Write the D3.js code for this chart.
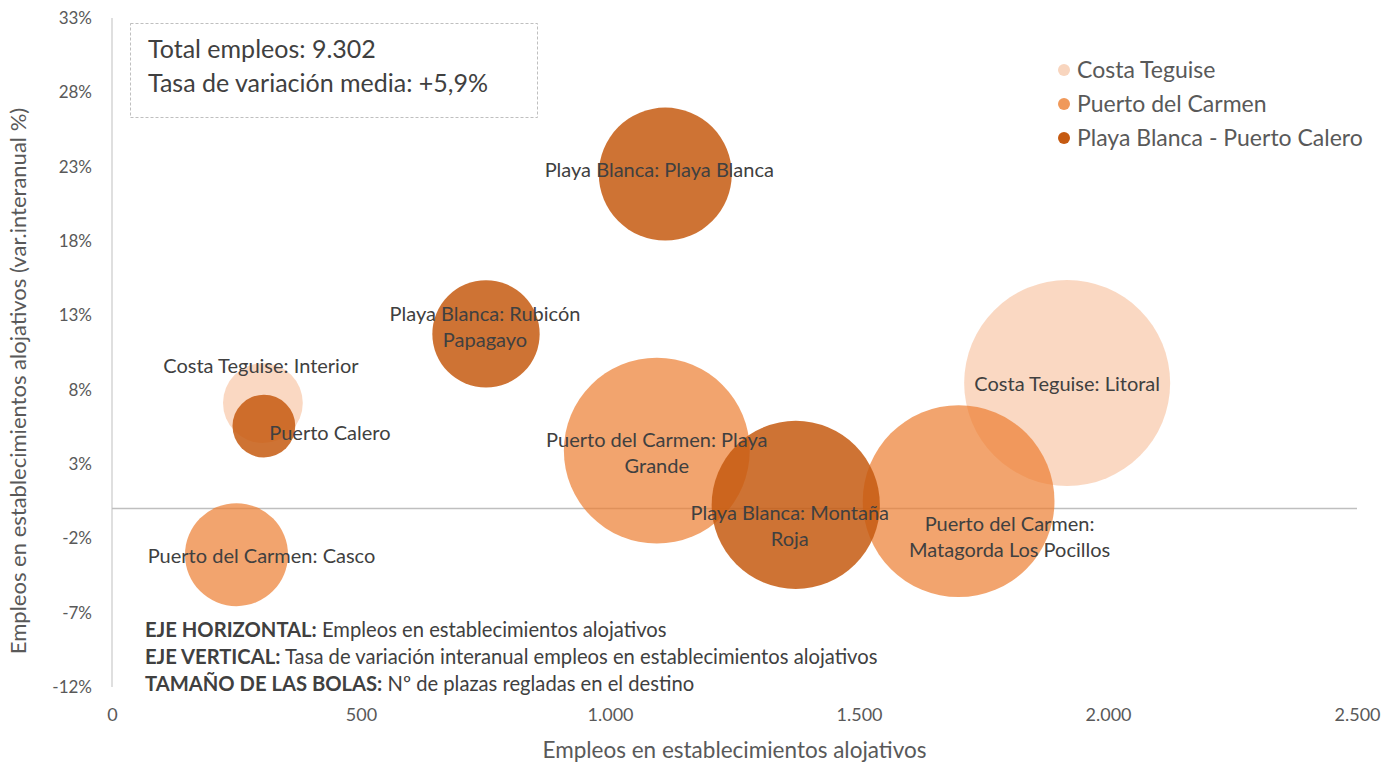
<!DOCTYPE html>
<html>
<head>
  <meta charset="utf-8">
  <script src="https://d3js.org/d3.v7.min.js"></script>
  <style>
    body { margin: 0; background: #fff; }
    text { font-family: Lato, "Open Sans", sans-serif; }
  </style>
</head>
<body>
<script>
  "use strict";

  // Zonas turisticas (orden de dibujo = orden de las series)
  var zonas = ["Costa Teguise: Interior", "Costa Teguise: Litoral",
               "Puerto del Carmen: Casco", "Puerto del Carmen: Playa Grande",
               "Puerto del Carmen: Matagorda Los Pocillos",
               "Puerto Calero", "Playa Blanca: Rubicón Papagayo",
               "Playa Blanca: Playa Blanca", "Playa Blanca: Montaña Roja"];
  var grupos = ["Costa Teguise", "Costa Teguise",
                "Puerto del Carmen", "Puerto del Carmen", "Puerto del Carmen",
                "Playa Blanca - Puerto Calero", "Playa Blanca - Puerto Calero",
                "Playa Blanca - Puerto Calero", "Playa Blanca - Puerto Calero"];
  // empleos en establecimientos alojativos
  var empleos = [303, 1918, 250, 1094, 1700, 305, 751, 1111, 1373];
  // tasa de variacion interanual (%)
  var variacion = [7.1, 8.45, -3.1, 3.9, 0.5, 5.55, 11.75, 22.5, 0.25];
  // plazas regladas (tamano de la bola)
  var plazas = [3150, 21000, 5250, 17100, 18200, 1950, 5700, 8750, 14000];

  var series = ["Costa Teguise", "Puerto del Carmen", "Playa Blanca - Puerto Calero"];
  var xTicks = [0, 500, 1000, 1500, 2000, 2500];
  var yTicks = [-12, -7, -2, 3, 8, 13, 18, 23, 28, 33];

  // label lines and nudges (px) as Excel placed them
  var etiquetas = [
    { lines: ["Costa Teguise: Interior"], dx: -2, dy: -37 },
    { lines: ["Costa Teguise: Litoral"], dx: 0, dy: 1 },
    { lines: ["Puerto del Carmen: Casco"], dx: 25, dy: 1 },
    { lines: ["Puerto del Carmen: Playa", "Grande"], dx: 0, dy: 2 },
    { lines: ["Puerto del Carmen:", "Matagorda Los Pocillos"], dx: 51, dy: 36 },
    { lines: ["Puerto Calero"], dx: 66, dy: 7 },
    { lines: ["Playa Blanca: Rubicón", "Papagayo"], dx: -1, dy: -7 },
    { lines: ["Playa Blanca: Playa Blanca"], dx: -6, dy: -4 },
    { lines: ["Playa Blanca: Montaña", "Roja"], dx: -6, dy: 21 }
  ];

  var data = zonas.map(function (z, i) {
    return { zona: z, grupo: grupos[i], x: empleos[i], y: variacion[i], s: plazas[i], label: etiquetas[i] };
  });

  var width = 1400, height = 767;
  var mLeft = 112, mRight = 1357, mTop = 18, mBottom = 687;

  var svg = d3.select("body").append("svg")
      .attr("width", width)
      .attr("height", height);

  var x = d3.scaleLinear().domain([0, 2500]).range([mLeft, mRight]);
  var y = d3.scaleLinear().domain([-12, 33]).range([mBottom, mTop]);
  var r = d3.scaleSqrt().domain([0, 21000]).range([0, 103]);

  var fill = d3.scaleOrdinal().domain(series).range(["#F8CBAD", "#ED7D31", "#C55A11"]);
  var opac = d3.scaleOrdinal().domain(series).range([0.75, 0.7, 0.85]);
  var legendFill = d3.scaleOrdinal().domain(series).range(["#F8D5BE", "#F0995A", "#C55A11"]);

  var es = d3.formatLocale({ decimal: ",", thousands: ".", grouping: [3], currency: ["", " €"] });

  // axes lines: vertical at x=0, horizontal at y=0
  svg.append("line")
      .attr("x1", x(0)).attr("x2", x(0))
      .attr("y1", mTop).attr("y2", mBottom)
      .style("stroke", "#BFBFBF").style("stroke-width", 1);
  svg.append("line")
      .attr("x1", x(0)).attr("x2", mRight)
      .attr("y1", y(0)).attr("y2", y(0))
      .style("stroke", "#BFBFBF").style("stroke-width", 1.5);

  var yAxis = svg.append("g")
      .attr("transform", "translate(" + (mLeft - 20) + ",0)")
      .call(d3.axisLeft(y).tickValues(yTicks).tickSize(0)
        .tickFormat(function (d) { return d + "%"; }));
  yAxis.select(".domain").remove();
  yAxis.selectAll("text")
      .attr("x", 0)
      .style("font-size", "17px").style("fill", "#595959")
      .style("font-family", "Lato, sans-serif");

  var xAxis = svg.append("g")
      .attr("transform", "translate(0," + (mBottom + 18) + ")")
      .call(d3.axisBottom(x).tickValues(xTicks).tickSize(0).tickFormat(es.format(",.0f")));
  xAxis.select(".domain").remove();
  xAxis.selectAll("text")
      .style("font-size", "18px").style("fill", "#595959")
      .style("font-family", "Lato, sans-serif");

  // axis titles
  svg.append("text")
      .attr("x", (mLeft + mRight) / 2)
      .attr("y", 758)
      .attr("text-anchor", "middle")
      .style("font-size", "22.5px").style("fill", "#595959")
      .text("Empleos en establecimientos alojativos");
  svg.append("text")
      .attr("transform", "translate(26,381) rotate(-90)")
      .attr("text-anchor", "middle")
      .style("font-size", "22px").style("fill", "#595959")
      .text("Empleos en establecimientos alojativos (var.interanual %)");

  // bubbles
  svg.append("g").selectAll("circle")
      .data(data)
      .enter()
      .append("circle")
      .attr("cx", function (d) { return x(d.x); })
      .attr("cy", function (d) { return y(d.y); })
      .attr("r", function (d) { return r(d.s); })
      .style("fill", function (d) { return fill(d.grupo); })
      .style("fill-opacity", function (d) { return opac(d.grupo); });

  // data labels
  var lab = svg.append("g").selectAll("text")
      .data(data)
      .enter()
      .append("text")
      .attr("text-anchor", "middle")
      .style("font-size", "20px").style("fill", "#404040")
      .attr("transform", function (d) {
        var n = d.label.lines.length;
        return "translate(" + (x(d.x) + d.label.dx) + "," +
          (y(d.y) + d.label.dy - (n - 1) * 13 + 7) + ")";
      });
  lab.selectAll("tspan")
      .data(function (d) { return d.label.lines; })
      .enter()
      .append("tspan")
      .attr("x", 0)
      .attr("dy", function (d, i) { return i === 0 ? 0 : 26; })
      .text(function (d) { return d; });

  // legend
  var legend = svg.append("g").selectAll("g")
      .data(series)
      .enter()
      .append("g")
      .attr("transform", function (d, i) { return "translate(1064," + (70 + i * 34) + ")"; });
  legend.append("circle")
      .attr("r", 6)
      .style("fill", function (d) { return legendFill(d); });
  legend.append("text")
      .attr("x", 13)
      .attr("y", 8)
      .style("font-size", "23px").style("fill", "#595959")
      .text(function (d) { return d; });

  // summary box
  svg.append("rect")
      .attr("x", 130.5).attr("y", 23.5)
      .attr("width", 407).attr("height", 94)
      .style("fill", "none").style("stroke", "#BFBFBF")
      .style("stroke-dasharray", "3,2");
  svg.selectAll("text.box")
      .data(["Total empleos: 9.302", "Tasa de variación media: +5,9%"])
      .enter()
      .append("text")
      .attr("class", "box")
      .attr("x", 148)
      .attr("y", function (d, i) { return 58 + i * 34; })
      .style("font-size", "25px").style("fill", "#404040")
      .text(function (d) { return d; });

  // notes
  var notas = [["EJE HORIZONTAL:", " Empleos en establecimientos alojativos"],
               ["EJE VERTICAL:", " Tasa de variación interanual empleos en establecimientos alojativos"],
               ["TAMAÑO DE LAS BOLAS:", " Nº de plazas regladas en el destino"]];
  var nt = svg.selectAll("text.nota")
      .data(notas)
      .enter()
      .append("text")
      .attr("class", "nota")
      .attr("x", 145)
      .attr("y", function (d, i) { return 637 + i * 27; })
      .style("font-size", "20.2px").style("fill", "#404040");
  nt.append("tspan").style("font-weight", "bold").text(function (d) { return d[0]; });
  nt.append("tspan").text(function (d) { return d[1]; });
</script>
</body>
</html>
